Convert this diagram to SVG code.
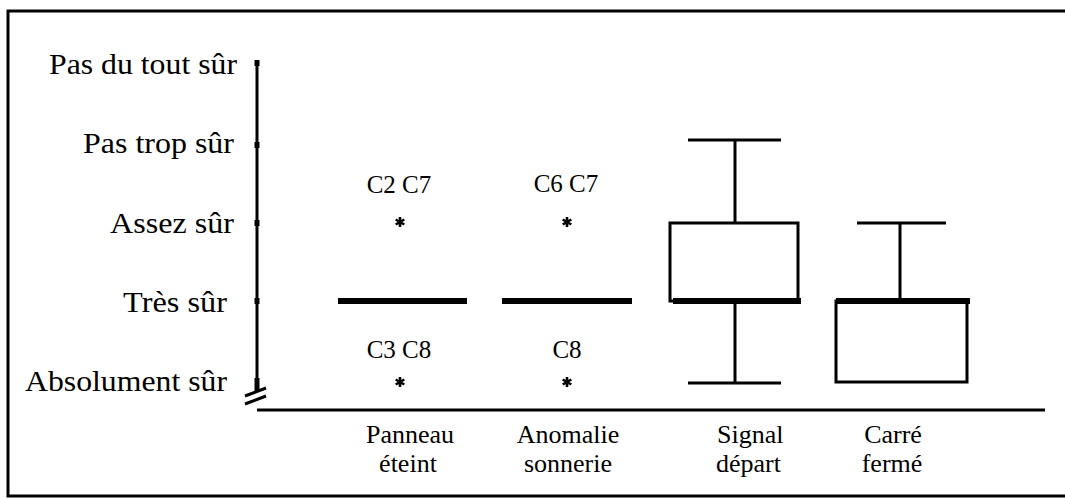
<svg xmlns="http://www.w3.org/2000/svg" width="1065" height="500" viewBox="0 0 1065 500">
<style>
text{font-family:"Liberation Serif","Times New Roman",serif;fill:#000}
.tick{font-size:30px;text-anchor:end}
.cat{font-size:26px;text-anchor:middle}
.lab{font-size:25px;text-anchor:middle}
.ln{stroke:#000;stroke-width:3;fill:none}
.med{stroke:#000;stroke-width:6;fill:none}
</style>
<defs>
<g id="star"><path d="M0,-5V5M-4.3,-2.5L4.3,2.5M-4.3,2.5L4.3,-2.5" stroke="#000" stroke-width="2.6"/></g>
</defs>
<rect width="1065" height="500" fill="#fff"/>
<path d="M1070,11H8V496H1070" class="ln"/>
<g id="axes">
<path d="M257,63V380" class="ln"/>
<path d="M257,378V392" stroke="#000" stroke-width="5"/>
<path d="M257,410H1045" class="ln"/>
<path d="M245,396L266,388M245,404L266,396" class="ln" stroke-width="2.5"/>
<path d="M257,60V66M257,142V148M257,220V226M257,298V304" stroke="#000" stroke-width="5"/>
<text class="tick" x="237" y="74" textLength="188" lengthAdjust="spacingAndGlyphs">Pas du tout sûr</text>
<text class="tick" x="234" y="153" textLength="151" lengthAdjust="spacingAndGlyphs">Pas trop sûr</text>
<text class="tick" x="234" y="233" textLength="124" lengthAdjust="spacingAndGlyphs">Assez sûr</text>
<text class="tick" x="227" y="312" textLength="104" lengthAdjust="spacingAndGlyphs">Très sûr</text>
<text class="tick" x="227" y="391" textLength="202" lengthAdjust="spacingAndGlyphs">Absolument sûr</text>
</g>
<g id="panneau">
<path d="M338,301H467" class="med"/>
<use href="#star" x="400" y="222"/>
<use href="#star" x="400" y="382"/>
<text class="lab" x="399" y="193">C2 C7</text>
<text class="lab" x="399" y="358">C3 C8</text>
<text class="cat"><tspan x="410" y="443">Panneau</tspan><tspan x="408" y="472">éteint</tspan></text>
</g>
<g id="anomalie">
<path d="M502,301H632" class="med"/>
<use href="#star" x="567" y="222"/>
<use href="#star" x="567" y="382"/>
<text class="lab" x="566" y="192">C6 C7</text>
<text class="lab" x="567" y="358">C8</text>
<text class="cat"><tspan x="568" y="443">Anomalie</tspan><tspan x="568" y="472">sonnerie</tspan></text>
</g>
<g id="signal">
<rect x="670" y="223" width="128" height="78" class="ln"/>
<path d="M735,140V223M688,140H781M735,301V383M688,383H781" class="ln"/>
<path d="M673,301H801" class="med"/>
<text class="cat" style="text-anchor:start"><tspan x="717" y="443">Signal</tspan><tspan x="716" y="472">départ</tspan></text>
</g>
<g id="carre">
<rect x="836" y="301" width="131" height="81" class="ln"/>
<path d="M900,223V301M857,223H946" class="ln"/>
<path d="M836,301H970" class="med"/>
<text class="cat"><tspan x="893" y="443">Carré</tspan><tspan x="892" y="472">fermé</tspan></text>
</g>
</svg>
